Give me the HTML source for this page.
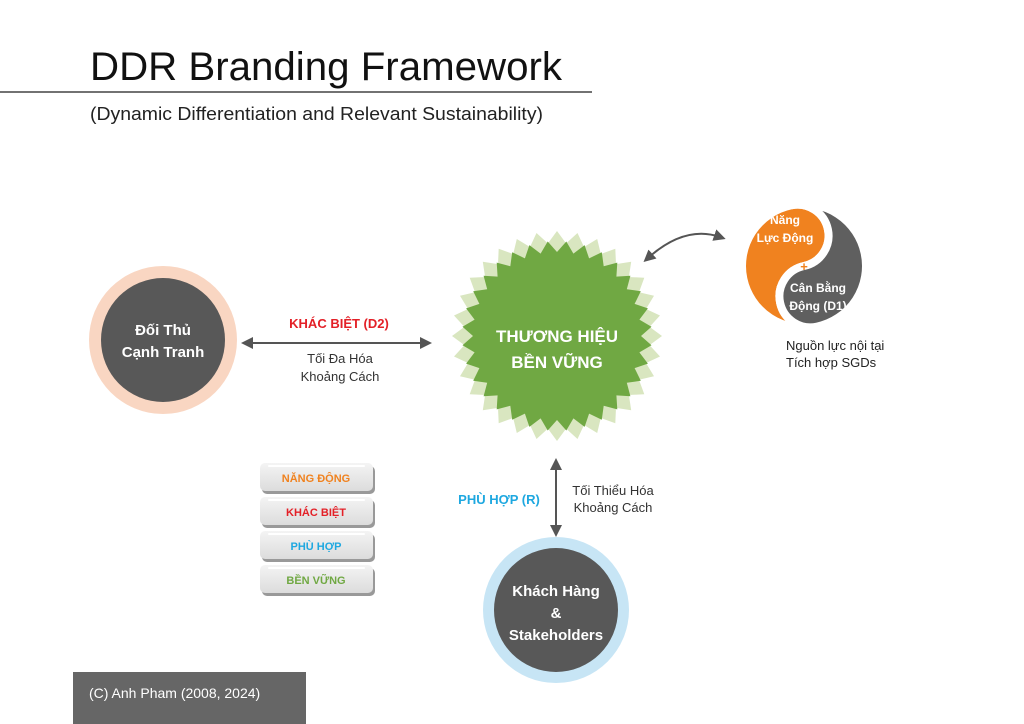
<!DOCTYPE html>
<html><head><meta charset="utf-8"><style>
html,body{margin:0;padding:0;background:#fff;}
svg{display:block;font-family:"Liberation Sans",sans-serif;}
</style></head><body>
<svg id="s" width="1024" height="724" viewBox="0 0 1024 724" xmlns="http://www.w3.org/2000/svg">
<defs>
<linearGradient id="bg" x1="0" y1="0" x2="0" y2="1"><stop offset="0" stop-color="#f4f4f4"/><stop offset="1" stop-color="#dcdcdc"/></linearGradient>
<marker id="ah" markerWidth="12" markerHeight="12" refX="6" refY="6" orient="auto-start-reverse" markerUnits="userSpaceOnUse" viewBox="0 0 12 12"><path d="M0,0 L12,6 L0,12 Z" fill="#555"/></marker>
</defs>
<text x="90" y="80" font-size="40" textLength="472" lengthAdjust="spacingAndGlyphs" fill="#111">DDR Branding Framework</text>
<line x1="0" y1="92" x2="592" y2="92" stroke="#444" stroke-width="1.5"/>
<text x="90" y="120" font-size="18" textLength="453" lengthAdjust="spacingAndGlyphs" fill="#222">(Dynamic Differentiation and Relevant Sustainability)</text>

<circle cx="163" cy="340" r="74" fill="#f9d6c2"/>
<circle cx="163" cy="340" r="62" fill="#585858"/>
<text x="163" y="335" font-size="15" font-weight="bold" fill="#fff" text-anchor="middle">Đối Thủ</text>
<text x="163" y="357" font-size="15" font-weight="bold" fill="#fff" text-anchor="middle">Cạnh Tranh</text>

<line x1="247" y1="343" x2="426" y2="343" stroke="#555" stroke-width="2" marker-start="url(#ah)" marker-end="url(#ah)"/>
<text x="339" y="328" font-size="13" font-weight="bold" fill="#e32027" text-anchor="middle">KHÁC BIỆT (D2)</text>
<text x="340" y="363" font-size="13" fill="#333" text-anchor="middle">Tối Đa Hóa</text>
<text x="340" y="381" font-size="13" fill="#333" text-anchor="middle">Khoảng Cách</text>

<polygon id="st1" fill="#d9e6c0"/>
<polygon id="st2" fill="#70a843"/>
<text x="557" y="342" font-size="17" font-weight="bold" fill="#fff" text-anchor="middle">THƯƠNG HIỆU</text>
<text x="557" y="368" font-size="17" font-weight="bold" fill="#fff" text-anchor="middle">BỀN VỮNG</text>

<path d="M648,258 Q685,225 720,237" fill="none" stroke="#555" stroke-width="2" marker-start="url(#ah)" marker-end="url(#ah)"/>

<g transform="translate(804,266) rotate(-12)">
<path d="M0,-62 A62,62 0 0 0 0,62 A31,31 0 0 1 0,0 A31,31 0 0 0 0,-62 Z" fill="#f0821f" stroke="#fff" stroke-width="8"/>
<path d="M0,-62 A62,62 0 0 1 0,62 A31,31 0 0 1 0,0 A31,31 0 0 0 0,-62 Z" fill="#5f5f5f" stroke="#fff" stroke-width="8"/>
</g>
<text x="785" y="224" font-size="12" font-weight="bold" fill="#fff" text-anchor="middle">Năng</text>
<text x="785" y="242" font-size="12" font-weight="bold" fill="#fff" text-anchor="middle">Lực Động</text>
<text x="804" y="271" font-size="13" font-weight="bold" fill="#f0821f" text-anchor="middle">+</text>
<text x="818" y="292" font-size="12" font-weight="bold" fill="#fff" text-anchor="middle">Cân Bằng</text>
<text x="818" y="310" font-size="12" font-weight="bold" fill="#fff" text-anchor="middle">Động (D1)</text>
<text x="786" y="350" font-size="13" fill="#222">Nguồn lực nội tại</text>
<text x="786" y="367" font-size="13" fill="#222">Tích hợp SGDs</text>

<line x1="556" y1="464" x2="556" y2="531" stroke="#555" stroke-width="2" marker-start="url(#ah)" marker-end="url(#ah)"/>
<text x="499" y="504" font-size="13" font-weight="bold" fill="#1ea8e0" text-anchor="middle">PHÙ HỢP (R)</text>
<text x="613" y="495" font-size="13" fill="#333" text-anchor="middle">Tối Thiểu Hóa</text>
<text x="613" y="512" font-size="13" fill="#333" text-anchor="middle">Khoảng Cách</text>

<circle cx="556" cy="610" r="73" fill="#c7e5f5"/>
<circle cx="556" cy="610" r="62" fill="#585858"/>
<text x="556" y="596" font-size="15" font-weight="bold" fill="#fff" text-anchor="middle">Khách Hàng</text>
<text x="556" y="618" font-size="15" font-weight="bold" fill="#fff" text-anchor="middle">&amp;</text>
<text x="556" y="640" font-size="15" font-weight="bold" fill="#fff" text-anchor="middle">Stakeholders</text>

<g font-size="11" font-weight="bold" text-anchor="middle">
<rect x="262" y="466" width="113" height="28" rx="5" fill="#999"/>
<rect x="260" y="463" width="113" height="28" rx="5" fill="url(#bg)"/>
<rect x="268" y="465" width="97" height="2" rx="1" fill="#fff"/>
<text x="316" y="482" fill="#f0821f">NĂNG ĐỘNG</text>
<rect x="262" y="500" width="113" height="28" rx="5" fill="#999"/>
<rect x="260" y="497" width="113" height="28" rx="5" fill="url(#bg)"/>
<rect x="268" y="499" width="97" height="2" rx="1" fill="#fff"/>
<text x="316" y="516" fill="#e32027">KHÁC BIỆT</text>
<rect x="262" y="534" width="113" height="28" rx="5" fill="#999"/>
<rect x="260" y="531" width="113" height="28" rx="5" fill="url(#bg)"/>
<rect x="268" y="533" width="97" height="2" rx="1" fill="#fff"/>
<text x="316" y="550" fill="#1ea8e0">PHÙ HỢP</text>
<rect x="262" y="568" width="113" height="28" rx="5" fill="#999"/>
<rect x="260" y="565" width="113" height="28" rx="5" fill="url(#bg)"/>
<rect x="268" y="567" width="97" height="2" rx="1" fill="#fff"/>
<text x="316" y="584" fill="#70a843">BỀN VỮNG</text>
</g>

<rect x="73" y="672" width="233" height="52" fill="#666"/>
<text x="89" y="698" font-size="14" fill="#fff">(C) Anh Pham (2008, 2024)</text>
</svg>
<script>
function star(id,cx,cy,ro,ri,n,off){var p=[];for(var i=0;i<2*n;i++){var r=i%2?ri:ro;var a=Math.PI*i/n+off;p.push((cx+r*Math.sin(a)).toFixed(1)+","+(cy-r*Math.cos(a)).toFixed(1));}document.getElementById(id).setAttribute("points",p.join(" "));}
star("st1",557,336,105,93,32,0);
star("st2",557,336,95,84,32,Math.PI/32);
</script>
</body></html>
